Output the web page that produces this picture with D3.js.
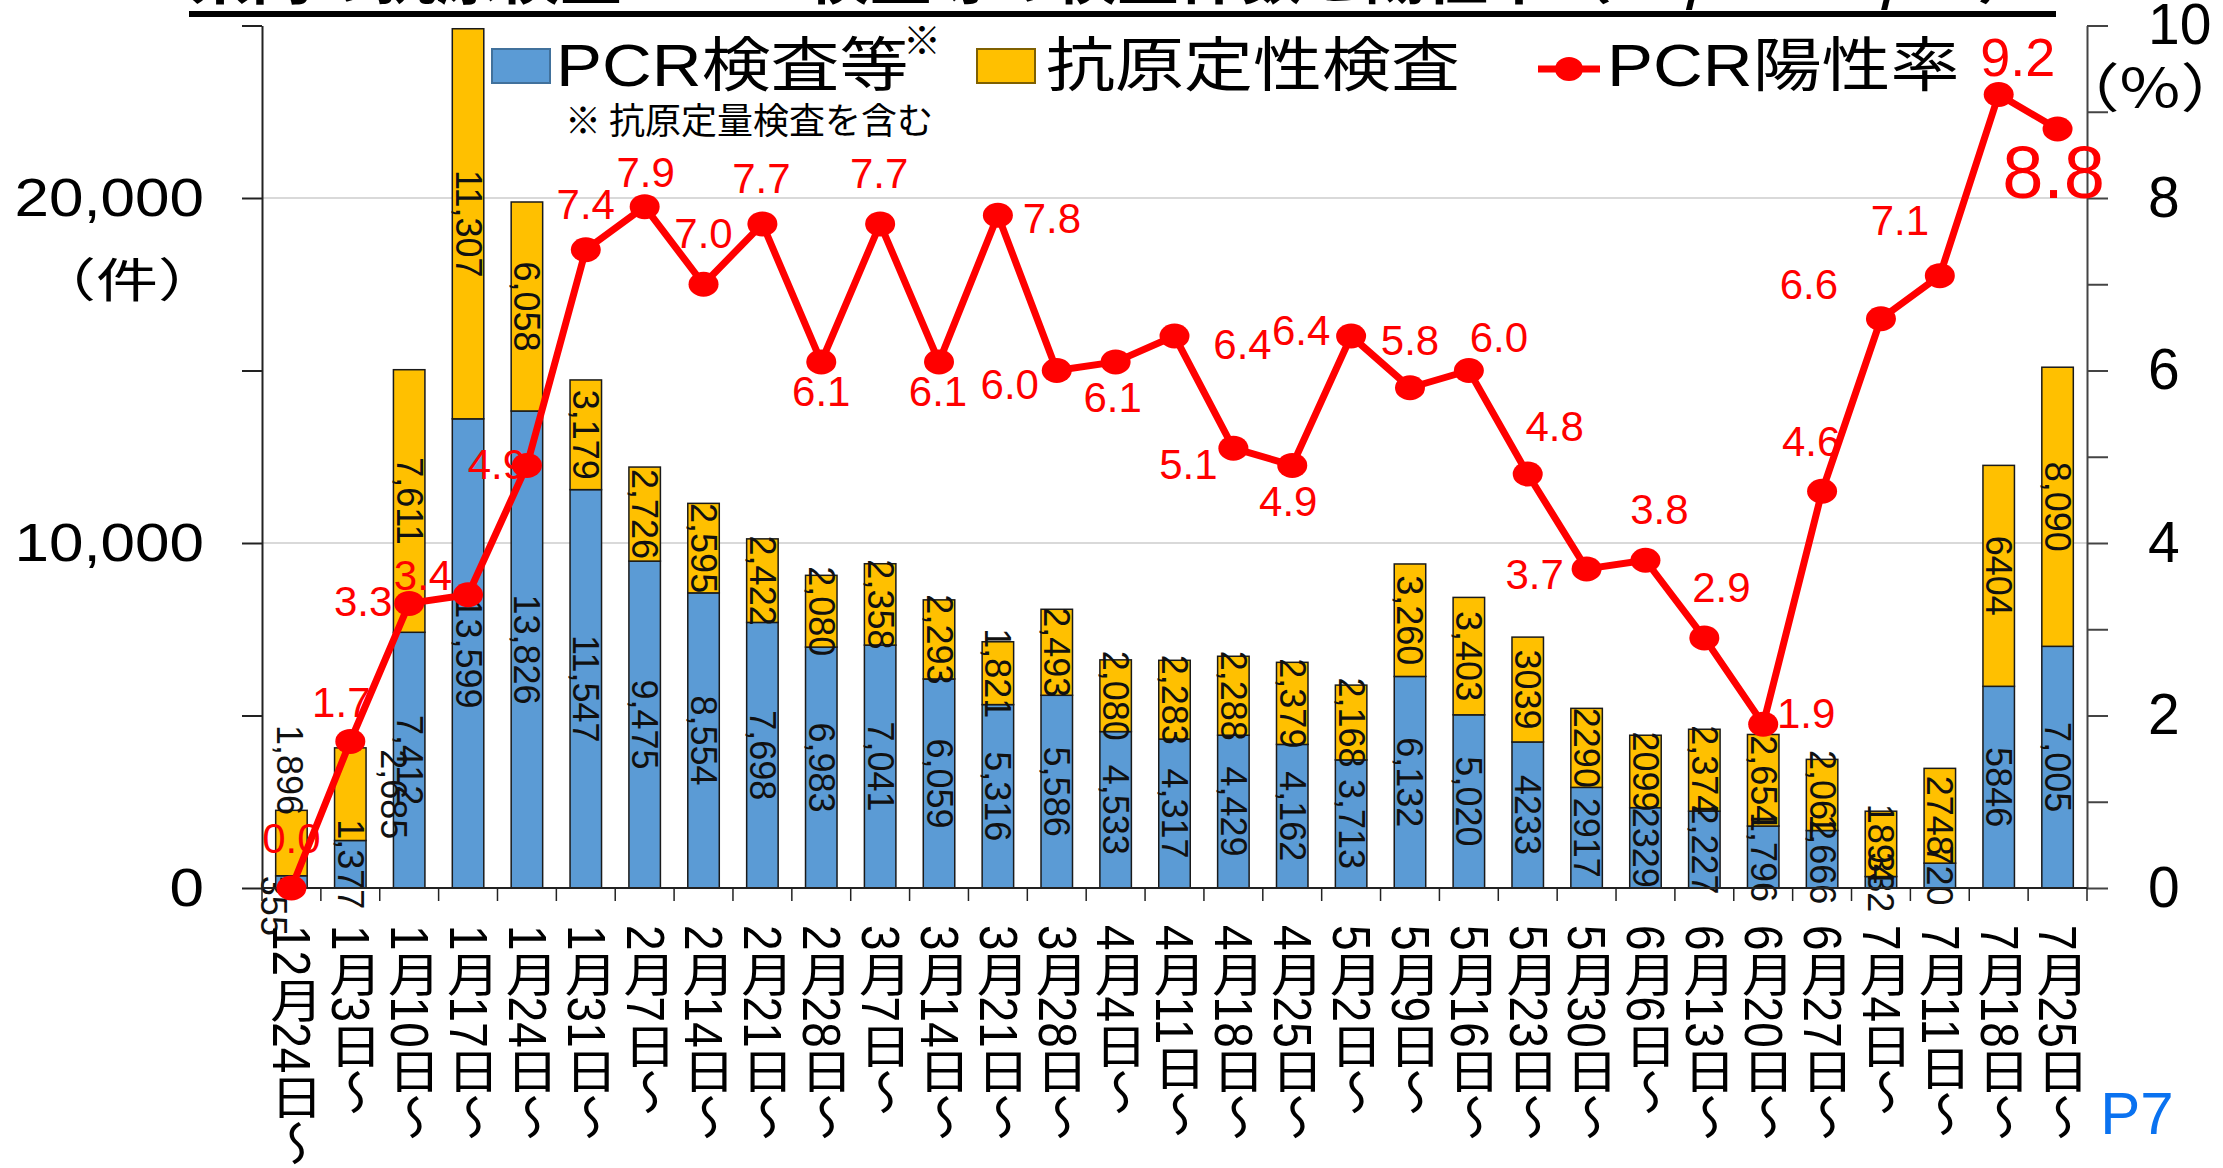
<!DOCTYPE html>
<html>
<head>
<meta charset="utf-8">
<style>
  body { margin: 0; background: #fff; }
  svg text { font-family: "Liberation Sans", Arial, "Noto Sans CJK JP", sans-serif; }
</style>
<script src="https://cdn.jsdelivr.net/npm/d3@7"></script>
</head>
<body>
<svg id="chart" width="2223" height="1168"></svg>
<script>
// weekly data
var weeks = ["12月24日～","1月3日～","1月10日～","1月17日～","1月24日～","1月31日～","2月7日～","2月14日～",
    "2月21日～","2月28日～","3月7日～","3月14日～","3月21日～","3月28日～","4月4日～","4月11日～","4月18日～",
    "4月25日～","5月2日～","5月9日～","5月16日～","5月23日～","5月30日～","6月6日～","6月13日～","6月20日～",
    "6月27日～","7月4日～","7月11日～","7月18日～","7月25日～"];
var pcrTests = [355,1377,7412,13599,13826,11547,9475,8554,7698,6983,7041,6059,5316,5586,4533,4317,4429,4162,
    3713,6132,5020,4233,2917,2329,2227,1796,1666,332,720,5846,7005];
var antigenTests = [1896,2685,7611,11307,6058,3179,2726,2595,2422,2080,2358,2293,1821,2493,2080,2283,2288,2379,
    2168,3260,3403,3039,2290,2099,2374,2654,2062,1894,2748,6404,8090];
var positiveRate = [0.0,1.7,3.3,3.4,4.9,7.4,7.9,7.0,7.7,6.1,7.7,6.1,7.8,6.0,6.1,6.4,5.1,4.9,6.4,5.8,6.0,4.8,
    3.7,3.8,2.9,1.9,4.6,6.6,7.1,9.2,8.8];
// weeks whose labels were printed without a thousands comma
var noCommaWeeks = ["5月23日～","5月30日～","6月6日～","7月4日～","7月11日～","7月18日～"];
var countTicks = [0,5000,10000,15000,20000,25000];
var countTickLabels = [0,10000,20000];
var rateTicks = [0,1,2,3,4,5,6,7,8,9,10];
var rateTickLabels = [0,2,4,6,8,10];

// label placement (px offsets from the point), kept apart from the data
var rateLabelOffsets = [[0,-50],[-9,-39],[-46,-2],[-45,-19],[-30,-1],[0,-45],[1,-34],[0,-51],[-1,-45],[0,30],
    [-1,-50],[-1,30],[54,3],[-47,14],[-3,36],[68,8],[-45,16],[-4,36],[-50,-6],[0,-47],[30,-33],[27,-48],
    [-52,6],[14,-51],[17,-50],[43,-11],[-11,-50],[-72,-34],[-40,-55],[19,-38],[-4,43]];
var rateLabelSize = {29: 54, 30: 74};
var barLabelNudge = {"antigen-0": [-2,-73], "pcr-0": [-18,24], "antigen-1": [43,0]};

var svg = d3.select('#chart');
var plotLeft = 262, plotRight = 2087, plotTop = 25.5, plotBottom = 888;

var x = d3.scaleBand().domain(weeks).range([plotLeft, plotRight]).paddingInner(0.465).paddingOuter(0.2325);
var yCount = d3.scaleLinear().domain([0, 25000]).range([plotBottom, plotTop]);
var yRate = d3.scaleLinear().domain([0, 10]).range([plotBottom, plotTop]);

// squash text vertically around its own y
function squish(sel, k) {
    sel.attr('transform', function() {
        var y = +d3.select(this).attr('y') || 0;
        return 'matrix(1,0,0,' + k + ',0,' + (y * (1 - k)) + ')';
    });
}
// stretch text horizontally around its own x
function widen(sel, k) {
    sel.attr('transform', function() {
        var xx = +d3.select(this).attr('x') || 0;
        return 'matrix(' + k + ',0,0,1,' + (xx * (1 - k)) + ',0)';
    });
}

// title (mostly cut off at the top edge)
svg.append('text')
    .attr('x', 189).attr('y', -2)
    .attr('font-size', 66).attr('font-weight', 'bold')
    .attr('textLength', 1850).attr('lengthAdjust', 'spacingAndGlyphs')
    .style('font-family', '"Noto Sans CJK JP", sans-serif')
    .text('県内の抗原検査・PCR検査等の検査件数と陽性率（12/24～7/31）');
svg.append('rect').attr('x', 189).attr('y', 11).attr('width', 1867).attr('height', 6).attr('fill', '#000');

// gridlines
svg.append('g').selectAll('line')
    .data(countTickLabels.filter(function(d) { return d > 0; }))
    .join('line')
    .attr('x1', plotLeft).attr('x2', plotRight)
    .attr('y1', function(d) { return yCount(d); }).attr('y2', function(d) { return yCount(d); })
    .attr('stroke', '#d9d9d9').attr('stroke-width', 2);

// stacked bars
var table = weeks.map(function(w, i) { return {week: w, pcr: pcrTests[i], antigen: antigenTests[i]}; });
var series = d3.stack().keys(['pcr', 'antigen'])(table);
var colors = {pcr: '#5B9BD5', antigen: '#FFC000'};

svg.append('g').selectAll('g')
    .data(series)
    .join('g')
    .attr('fill', function(s) { return colors[s.key]; })
    .selectAll('rect')
    .data(function(s) { return s; })
    .join('rect')
    .attr('x', function(d) { return x(d.data.week); })
    .attr('width', x.bandwidth())
    .attr('y', function(d) { return yCount(d[1]); })
    .attr('height', function(d) { return yCount(d[0]) - yCount(d[1]); })
    .attr('stroke', '#1a1a1a').attr('stroke-width', 1.5);

// bar value labels, rotated
var barLabels = [];
series.forEach(function(s) {
    s.forEach(function(d, i) {
        var fmt = noCommaWeeks.indexOf(d.data.week) >= 0 ? d3.format('d') : d3.format(',');
        var nudge = barLabelNudge[s.key + '-' + i] || [0, 0];
        barLabels.push({
            x: x(d.data.week) + x.bandwidth() / 2 + nudge[0],
            y: (yCount(d[0]) + yCount(d[1])) / 2 + nudge[1],
            text: fmt(d[1] - d[0])
        });
    });
});
svg.append('g').selectAll('text')
    .data(barLabels)
    .join('text')
    .attr('transform', function(d) { return 'translate(' + d.x + ',' + d.y + ') rotate(90)'; })
    .attr('text-anchor', 'middle').attr('dominant-baseline', 'central')
    .attr('font-size', 36).attr('fill', '#111')
    .text(function(d) { return d.text; });

// axes
var leftAxis = svg.append('g')
    .attr('transform', 'translate(' + plotLeft + ',0)')
    .call(d3.axisLeft(yCount).tickValues(countTicks).tickSize(20).tickSizeOuter(0).tickPadding(38)
        .tickFormat(function(d) { return countTickLabels.indexOf(d) >= 0 ? d3.format(',')(d) : ''; }));
leftAxis.selectAll('text').attr('font-size', 62).attr('fill', '#000')
    .style('font-family', '"Liberation Sans", Arial').call(squish, 0.88);
leftAxis.selectAll('line, path').attr('stroke', '#222').attr('stroke-width', 2);

var rightAxis = svg.append('g')
    .attr('transform', 'translate(' + plotRight + ',0)')
    .call(d3.axisRight(yRate).tickValues(rateTicks).tickSize(21).tickSizeOuter(0).tickPadding(40)
        .tickFormat(function(d) { return rateTickLabels.indexOf(d) >= 0 ? d : ''; }));
rightAxis.selectAll('text').attr('font-size', 57).attr('fill', '#000').style('font-family', '"Liberation Sans", Arial');
rightAxis.selectAll('line, path').attr('stroke', '#444').attr('stroke-width', 2);

// category axis: baseline, boundary ticks, vertical labels
svg.append('line').attr('x1', plotLeft).attr('x2', plotRight).attr('y1', plotBottom).attr('y2', plotBottom)
    .attr('stroke', '#222').attr('stroke-width', 2);
var gap = (x.step() - x.bandwidth()) / 2;
var bounds = weeks.map(function(w) { return x(w) - gap; }).concat([plotRight]);
svg.append('g').selectAll('line')
    .data(bounds)
    .join('line')
    .attr('x1', function(d) { return d; }).attr('x2', function(d) { return d; })
    .attr('y1', plotBottom).attr('y2', plotBottom + 13)
    .attr('stroke', '#222').attr('stroke-width', 1.5);
svg.append('g').selectAll('text')
    .data(weeks)
    .join('text')
    .attr('x', function(d) { return x(d) + x.bandwidth() / 2; })
    .attr('y', 925)
    .attr('font-size', 46).attr('fill', '#000')
    .style('writing-mode', 'vertical-rl').style('text-orientation', 'mixed')
    .style('font-family', '"Liberation Sans", Arial, "Noto Sans CJK JP"')
    .text(function(d) { return d; })
    .call(widen, 1.15);

// axis unit labels
svg.append('text').attr('x', 127).attr('y', 277)
    .attr('text-anchor', 'middle').attr('dominant-baseline', 'central')
    .attr('font-size', 62).style('font-family', '"Noto Sans CJK JP"')
    .text('（件）').call(squish, 0.75);
svg.append('text').attr('x', 2150).attr('y', 84)
    .attr('text-anchor', 'middle').attr('dominant-baseline', 'central')
    .attr('font-size', 66).style('font-family', '"Noto Sans CJK JP"')
    .text('（%）').call(squish, 0.8);

// positive rate line
var cx = function(i) { return x(weeks[i]) + x.bandwidth() / 2; };
svg.append('path')
    .datum(positiveRate)
    .attr('fill', 'none').attr('stroke', '#FF0000').attr('stroke-width', 7)
    .attr('stroke-linejoin', 'round')
    .attr('d', d3.line().x(function(d, i) { return cx(i); }).y(function(d) { return yRate(d); }));
svg.append('g').selectAll('ellipse')
    .data(positiveRate)
    .join('ellipse')
    .attr('cx', function(d, i) { return cx(i); })
    .attr('cy', function(d) { return yRate(d); })
    .attr('rx', 15).attr('ry', 12.5)
    .attr('fill', '#FF0000');
svg.append('g').selectAll('text')
    .data(positiveRate)
    .join('text')
    .attr('x', function(d, i) { return cx(i) + rateLabelOffsets[i][0]; })
    .attr('y', function(d, i) { return yRate(d) + rateLabelOffsets[i][1]; })
    .attr('text-anchor', 'middle').attr('dominant-baseline', 'central')
    .attr('font-size', function(d, i) { return rateLabelSize[i] || 42; })
    .attr('fill', '#FF0000')
    .text(function(d) { return d3.format('.1f')(d); });

// legend
var legend = svg.append('g');
legend.append('rect').attr('x', 492).attr('y', 49).attr('width', 58).attr('height', 34)
    .attr('fill', colors.pcr).attr('stroke', '#41719C').attr('stroke-width', 2);
legend.append('text').attr('x', 556).attr('y', 66).attr('dominant-baseline', 'central')
    .attr('font-size', 69).text('PCR検査等').call(squish, 0.85);
legend.append('text').attr('x', 922).attr('y', 37).attr('text-anchor', 'middle').attr('dominant-baseline', 'central')
    .attr('font-size', 38).style('font-family', '"Noto Sans CJK JP"').text('※');
legend.append('text').attr('x', 565).attr('y', 118).attr('dominant-baseline', 'central')
    .attr('font-size', 36).style('font-family', '"Noto Sans CJK JP"').text('※ 抗原定量検査を含む');
legend.append('rect').attr('x', 977).attr('y', 49).attr('width', 58).attr('height', 34)
    .attr('fill', colors.antigen).attr('stroke', '#7F6000').attr('stroke-width', 2);
legend.append('text').attr('x', 1046).attr('y', 66).attr('dominant-baseline', 'central')
    .attr('font-size', 69).text('抗原定性検査').call(squish, 0.85);
legend.append('line').attr('x1', 1538).attr('x2', 1600).attr('y1', 69).attr('y2', 69)
    .attr('stroke', '#FF0000').attr('stroke-width', 7);
legend.append('ellipse').attr('cx', 1569).attr('cy', 69).attr('rx', 14).attr('ry', 12).attr('fill', '#FF0000');
legend.append('text').attr('x', 1607).attr('y', 66).attr('dominant-baseline', 'central')
    .attr('font-size', 69).text('PCR陽性率').call(squish, 0.85);

// page number
svg.append('text').attr('x', 2137).attr('y', 1113)
    .attr('text-anchor', 'middle').attr('dominant-baseline', 'central')
    .attr('font-size', 60).attr('fill', '#0A72F0').text('P7');
</script>
</body>
</html>
